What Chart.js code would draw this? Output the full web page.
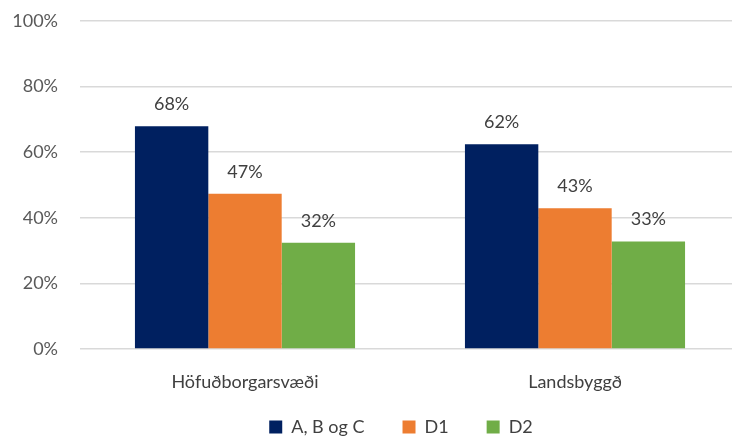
<!DOCTYPE html>
<html>
<head>
<meta charset="utf-8">
<script src="https://cdn.jsdelivr.net/npm/chart.js@4.4.0/dist/chart.umd.min.js"></script>
<style>
  html, body { margin: 0; padding: 0; background: #fff; overflow: hidden; }
  #wrap { width: 740px; height: 437px; }
</style>
</head>
<body>
<div id="wrap"><canvas id="myChart"></canvas></div>
<script>
const categories = ["Höfuðborgarsvæði", "Landsbyggð"];
const seriesNames = ["A, B og C", "D1", "D2"];
const abcValues = [67.9, 62.4];
const d1Values = [47.3, 42.9];
const d2Values = [32.4, 32.8];
const yTicks = [0, 20, 40, 60, 80, 100];

const colors = ["#002060", "#ED7D31", "#70AD47"];
const fontFamily = "Lato, 'Open Sans', sans-serif";

// labels above each bar
const barLabels = {
  id: "barLabels",
  afterLayout(chart) {
    // legend sits a bit right of centre and close to the axis labels in the original
    chart.legend.left += 31;
    chart.legend.right += 31;
    chart.legend.top -= 19;
    chart.legend.bottom -= 19;
  },
  afterDatasetsDraw(chart) {
    const c = chart.ctx;
    c.save();
    c.font = "18px " + fontFamily;
    c.fillStyle = "#404040";
    c.textAlign = "center";
    c.textBaseline = "middle";
    chart.data.datasets.forEach((ds, i) => {
      chart.getDatasetMeta(i).data.forEach((bar, j) => {
        c.fillText(Math.round(ds.data[j]) + "%", bar.x, bar.y - 22);
      });
    });
    c.restore();
  }
};

const data = {
  labels: categories,
  datasets: [
    { label: seriesNames[0], data: abcValues, backgroundColor: colors[0] },
    { label: seriesNames[1], data: d1Values, backgroundColor: colors[1] },
    { label: seriesNames[2], data: d2Values, backgroundColor: colors[2] },
  ],
};

const config = {
  type: "bar",
  data: data,
  plugins: [barLabels],
  options: {
    responsive: true,
    maintainAspectRatio: false,
    animation: false,
    barPercentage: 1,
    categoryPercentage: 0.667,
    layout: { padding: { top: 21, right: 0, bottom: -28, left: 0 } },
    scales: {
      x: {
        grid: { display: false },
        border: { display: false },
        ticks: { color: "#404040", font: { family: fontFamily, size: 18 }, padding: 14 },
        afterFit(scale) { scale.height = 50; },
      },
      y: {
        min: 0,
        max: 100,
        afterBuildTicks(scale) { scale.ticks = yTicks.map(v => ({ value: v })); },
        grid: { color: "#D9D9D9", lineWidth: 1.5, drawTicks: false },
        border: { display: false },
        ticks: {
          color: "#595959",
          font: { family: fontFamily, size: 18, lineHeight: 0.1 },
          padding: 22,
          callback: v => v + "%",
        },
        afterFit(scale) { scale.width = 80; scale.paddingTop = 0; scale.paddingBottom = 0; },
      },
    },
    plugins: {
      legend: {
        position: "bottom",
        labels: {
          color: "#404040",
          font: { family: fontFamily, size: 18 },
          boxWidth: 13,
          boxHeight: 13,
          padding: 38,
        },
      },
      tooltip: { enabled: false },
    },
  },
};

const myChart = new Chart(document.querySelector("#myChart"), config);
</script>
</body>
</html>
